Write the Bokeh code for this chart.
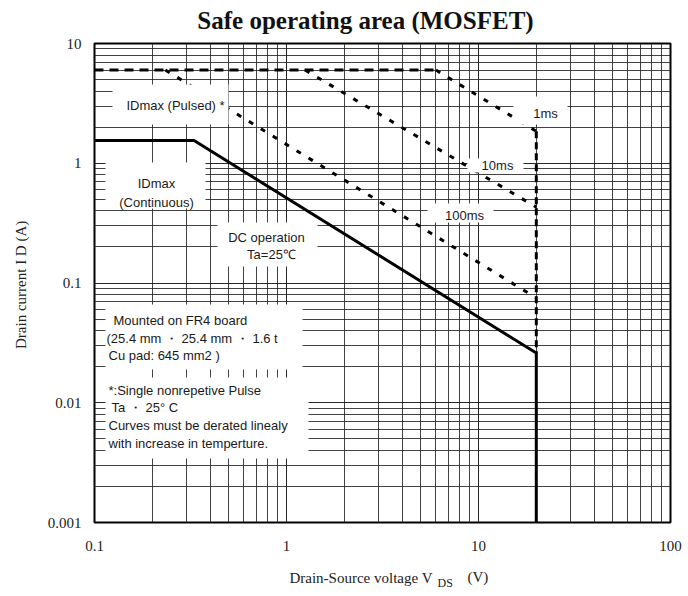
from bokeh.plotting import figure
from bokeh.models import FixedTicker, Label, BoxAnnotation
from bokeh.embed import file_html
from bokeh.resources import INLINE

# ---------------- data ----------------
x_ticks = [0.1, 1, 10, 100]
x_tick_labels = ["0.1", "1", "10", "100"]
y_ticks = [0.001, 0.01, 0.1, 1, 10]
y_tick_labels = ["0.001", "0.01", "0.1", "1", "10"]
mantissas = [2, 3, 4, 5, 6, 7, 8, 9]

# DC operation (solid)
dc_v = [0.1, 0.33, 20, 20]
dc_i = [1.55, 1.55, 0.026, 0.001]
# Pulsed ID max (flat dashed)
pulsed_v = [0.1, 6.0]
pulsed_i = [6, 6]
# 1 ms, 10 ms, 100 ms
ms1_v = [6.0, 20]
ms1_i = [6, 1.85]
ms10_v = [1.25, 20]
ms10_i = [6, 0.43]
ms100_v = [0.234, 20]
ms100_i = [6, 0.075]
# Vds max edge (dashed)
edge_v = [20, 20]
edge_i = [1.85, 0.026]

# ---------------- layout helpers (page pixel -> data) ----------------
FL, FR, FT, FB = 94, 670, 43, 522
W, H = 688, 596
def dx(px):
    return 10 ** (-1 + 3 * (px - FL) / (FR - FL))
def dy(py):
    return 10 ** (1 - 4 * (py - FT) / (FB - FT))

p = figure(width=W, height=H, x_axis_type="log", y_axis_type="log",
           x_range=(0.1, 100), y_range=(0.001, 10),
           output_backend="svg", toolbar_location=None,
           min_border_left=FL, min_border_right=W - FR,
           min_border_top=FT, min_border_bottom=H - FB)

p.outline_line_color = "black"
p.outline_line_width = 2
p.background_fill_color = "white"
p.border_fill_color = "white"

p.xaxis.ticker = FixedTicker(ticks=x_ticks,
                             minor_ticks=[m * t for t in x_ticks[:-1] for m in mantissas])
p.yaxis.ticker = FixedTicker(ticks=y_ticks,
                             minor_ticks=[m * t for t in y_ticks[:-1] for m in mantissas])
p.xaxis.major_label_overrides = dict(zip(x_ticks, x_tick_labels))
p.yaxis.major_label_overrides = dict(zip(y_ticks, y_tick_labels))

for ax in (p.xaxis, p.yaxis):
    ax.axis_line_color = None
    ax.major_tick_line_color = None
    ax.minor_tick_line_color = None
    ax.major_tick_out = 0
    ax.minor_tick_out = 0
    ax.major_label_text_font = "Liberation Serif"
    ax.major_label_text_font_size = "15px"
    ax.major_label_text_color = "#222222"
    ax.axis_label_text_font = "Liberation Serif"
    ax.axis_label_text_font_size = "15px"
    ax.axis_label_text_font_style = "normal"
    ax.axis_label_text_color = "#222222"
p.xaxis.major_label_standoff = 18
p.yaxis.major_label_standoff = 13
p.yaxis.axis_label = "Drain current  I D (A)"
p.yaxis.axis_label_standoff = 16

for g in (p.xgrid, p.ygrid):
    g.grid_line_color = "#111111"
    g.grid_line_width = 1
    g.grid_line_alpha = 0.9
    g.minor_grid_line_color = "#222222"
    g.minor_grid_line_width = 1
    g.minor_grid_line_alpha = 0.85

# ---------------- curves ----------------
p.line(dc_v, dc_i, line_color="black", line_width=3)
p.line(pulsed_v, pulsed_i, line_color="black", line_width=3, line_dash="9 6")
p.line(ms1_v, ms1_i, line_color="black", line_width=3, line_dash="5 9")
p.line(ms10_v, ms10_i, line_color="black", line_width=3, line_dash="5 9")
p.line(ms100_v, ms100_i, line_color="black", line_width=3, line_dash="5 9")
p.line(edge_v, edge_i, line_color="black", line_width=3, line_dash="7 4")

# ---------------- white label boxes ----------------
boxes = [
    (112, 228, 84, 124),   # IDmax pulsed
    (105, 205, 162, 208),  # IDmax continuous
    (217, 317, 222, 266),  # DC operation
    (105, 302, 304, 369),  # mounted
    (105, 308, 377, 458),  # note
    (513, 567, 96, 124),   # 1ms
    (467, 523, 158, 172),  # 10ms
    (427, 493, 203, 222),  # 100ms
]
for l, r, t, b in boxes:
    p.add_layout(BoxAnnotation(left=dx(l), right=dx(r), top=dy(t), bottom=dy(b),
                               fill_color="white", fill_alpha=1.0, line_color=None))

def note(text, px, py, align="center", size="13px", font="Liberation Sans"):
    p.add_layout(Label(x=dx(px), y=dy(py), text=text, text_align=align,
                       text_baseline="middle", text_font=font,
                       text_font_size=size, text_color="#1a1a1a"))

note("IDmax (Pulsed) *", 175, 105)
note("IDmax", 156, 183)
note("(Continuous)", 156, 202)
note("DC operation", 266, 237)
note("Ta=25℃", 271, 254)
note("1ms", 545, 113)
note("10ms", 497, 165)
note("100ms", 464, 215)
note("Mounted on FR4 board", 113, 320, align="left")
note("(25.4 mm ・ 25.4 mm ・ 1.6 t", 106, 338, align="left")
note("Cu pad: 645 mm2 )", 108, 355, align="left")
note("*:Single nonrepetive Pulse", 108, 390, align="left")
note("Ta ・ 25° C", 111, 407, align="left")
note("Curves must be derated linealy", 108, 425, align="left")
note("with increase in temperture.", 108, 443, align="left")

# ---------------- title and x axis label pieces in side panels (not clipped) ----------------
def side_label(text, x, y, side, align, size, style="normal", color="#222222"):
    p.add_layout(Label(x=x, y=y, x_units="screen", y_units="screen",
                       text=text, text_align=align, text_baseline="middle",
                       text_font="Liberation Serif", text_font_size=size,
                       text_font_style=style, text_color=color), side)

side_label("Safe operating area (MOSFET)", 365 - FL, FT - 20, "above", "center",
           "25px", style="bold", color="#111111")
side_label("Drain-Source voltage  V", 436 - FL, -8, "below", "right", "15px")
side_label("(V)", 467 - FL, 9, "below", "left", "15px")
side_label("DS", 437 - FR, FB - 582, "right", "left", "12px")

open("out.html", "w").write(file_html(p, INLINE))
